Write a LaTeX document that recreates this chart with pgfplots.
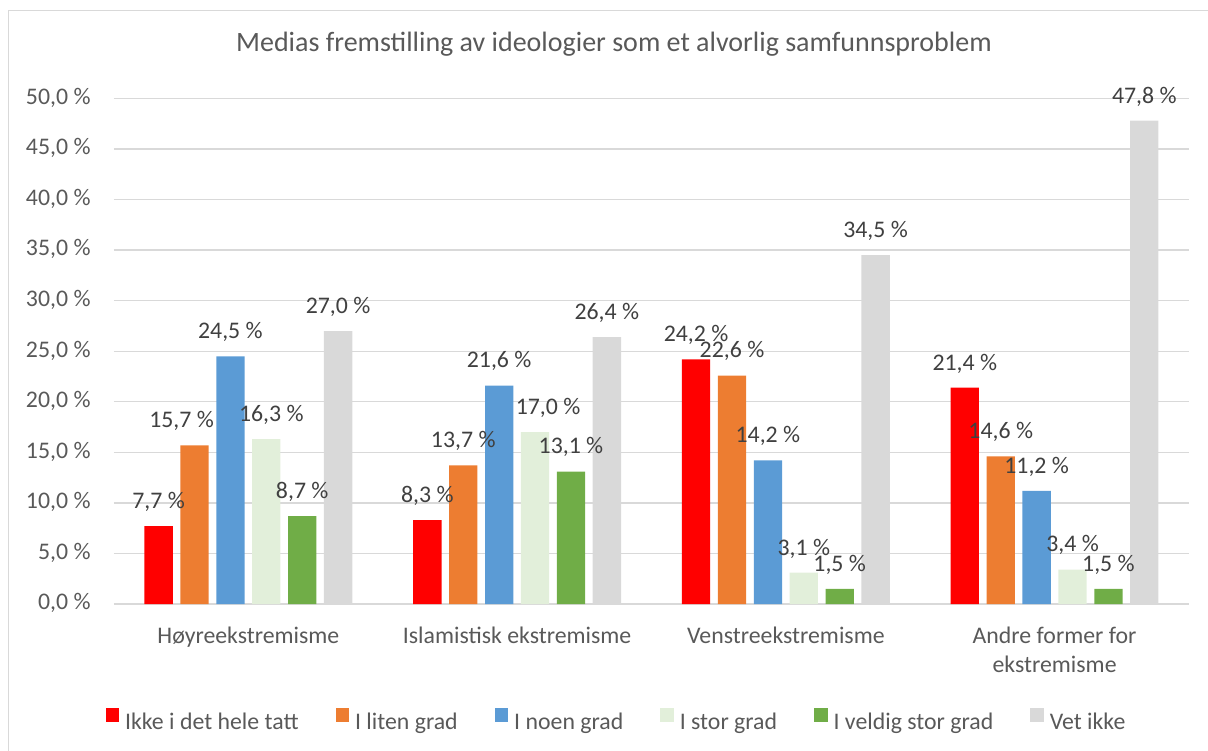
\documentclass[border=0pt]{standalone}
\usepackage{fontspec}
\setmainfont{Carlito}
\usepackage{pgfplots}
\pgfplotsset{compat=1.18}
\usepackage{pgfplotstable}
\definecolor{cRed}{HTML}{FF0000}
\definecolor{cOrange}{HTML}{ED7D31}
\definecolor{cBlue}{HTML}{5B9BD5}
\definecolor{cLGreen}{HTML}{E2EFDA}
\definecolor{cGreen}{HTML}{70AD47}
\definecolor{cGray}{HTML}{D9D9D9}
\definecolor{txt}{HTML}{595959}
\definecolor{lbl}{HTML}{404040}
\definecolor{gridc}{HTML}{D9D9D9}

\pgfplotstableread{
x a b c d e f bs ds
0 7.7 15.7 24.5 16.3 8.7 27.0 -13 5
1 8.3 13.7 21.6 17.0 13.1 26.4 0 13
2 24.2 22.6 14.2 3.1 1.5 34.5 0 0
3 21.4 14.6 11.2 3.4 1.5 47.8 0 0
}\data

\newcommand{\fsn}{\fontsize{23.8bp}{29.3bp}\selectfont}

\begin{document}
\begin{tikzpicture}
\path[use as bounding box] (-114bp,-147bp) rectangle (1094bp,604bp);
\draw[gridc, line width=1.3bp] (-105.5bp,-160bp) -- (-105.5bp,593.7bp) -- (1110bp,593.7bp);
\begin{axis}[
  at={(0,0)}, anchor=south west,
  scale only axis, width=1075bp, height=505.5bp,
  xmin=-0.5, xmax=3.5, ymin=0, ymax=50,
  ybar=7.6bp, bar width=28.3bp,
  axis line style={draw=none},
  major tick length=0pt,
  ytick={0,5,...,50},
  ymajorgrids, grid style={gridc, line width=1.3bp},
  xtick={0,1,2,3},
  xticklabels={H\o yreekstremisme, Islamistisk ekstremisme, Venstreekstremisme, {\begin{tabular}[t]{@{}c@{}}Andre former for\\ekstremisme\end{tabular}}},
  /pgf/number format/assume math mode=true,
  yticklabel={\pgfmathprintnumber[fixed,fixed zerofill,precision=1,use comma]{\tick}~\%},
  yticklabel style={anchor=base east, inner sep=0pt, xshift=-23.3bp, yshift=-5.8bp, font=\fsn, text=txt},
  xticklabel style={anchor=base, inner sep=0pt, yshift=-39.3bp, font=\fsn, text=txt},
  title={Medias fremstilling av ideologier som et alvorlig samfunnsproblem},
  title style={at={(0.4651,1)}, anchor=base, yshift=41.2bp, inner sep=0pt, font=\fontsize{28bp}{34bp}\selectfont, text=txt},
  nodes near coords={\pgfmathprintnumber[fixed,fixed zerofill,precision=1,use comma]{\pgfplotspointmeta}~\%},
  every node near coord/.append style={anchor=south, inner sep=0pt, yshift=14.4bp, font=\fsn, text=lbl},
  legend columns=6,
  legend image code/.code={\fill[#1] (0bp,0bp) rectangle (13.5bp,13.5bp);},
  legend style={at={(0.4665,0)}, anchor=north, yshift=-104bp, draw=none, fill=none, inner sep=0pt,
    font=\fsn, text=txt, nodes={inner sep=0pt},
    /tikz/every odd column/.append style={column sep=6bp},
    /tikz/every even column/.append style={column sep=37bp}},
]
\addplot[fill=cRed, draw=none] table[x=x,y=a]{\data};
\addplot[fill=cOrange, draw=none, visualization depends on={\thisrow{bs} \as \dx},
  every node near coord/.append style={xshift=\dx bp}] table[x=x,y=b]{\data};
\addplot[fill=cBlue, draw=none] table[x=x,y=c]{\data};
\addplot[fill=cLGreen, draw=none, visualization depends on={\thisrow{ds} \as \dx},
  every node near coord/.append style={xshift=\dx bp}] table[x=x,y=d]{\data};
\addplot[fill=cGreen, draw=none] table[x=x,y=e]{\data};
\addplot[fill=cGray, draw=none] table[x=x,y=f]{\data};
\legend{Ikke i det hele tatt, I liten grad, I noen grad, I stor grad, I veldig stor grad, Vet ikke}
\end{axis}
\end{tikzpicture}
\end{document}
